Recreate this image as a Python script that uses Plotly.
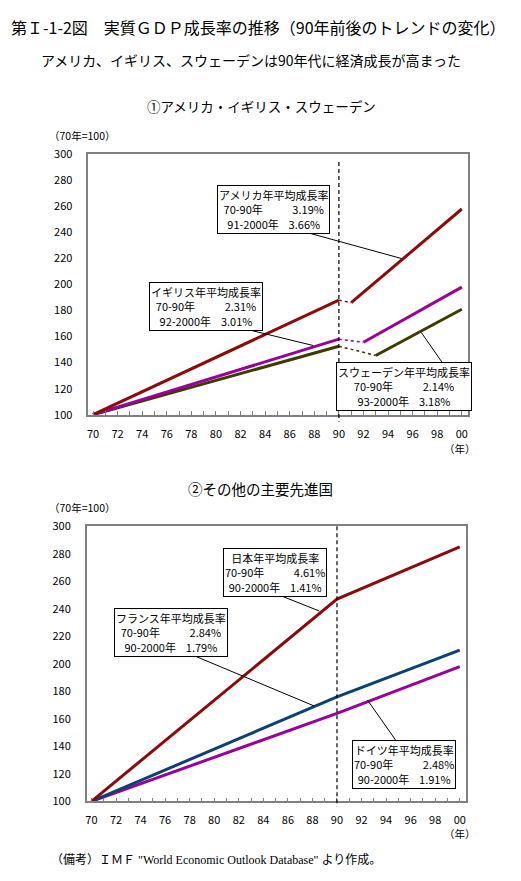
import plotly.graph_objects as go

# ---- データ（70年=100）----
# ①アメリカ・イギリス・スウェーデン
us_years = [70, 90, 91, 100]
us_vals = [100, 188, 186, 258]
uk_years = [70, 90, 92, 100]
uk_vals = [100, 158, 155.6, 198]
se_years = [70, 90, 93, 100]
se_vals = [100, 152.6, 145.5, 181]

# ②その他の主要先進国
jp_years = [70, 90, 100]
jp_vals = [100, 247, 285]
fr_years = [70, 90, 100]
fr_vals = [100, 176, 210]
de_years = [70, 90, 100]
de_vals = [100, 164, 198]

tick_years = list(range(70, 101, 2))
tick_text = ["70", "72", "74", "76", "78", "80", "82", "84", "86", "88",
             "90", "92", "94", "96", "98", "00"]
y_ticks = list(range(100, 301, 20))

RED = "#8b0a0a"
PURPLE = "#990099"
OLIVE = "#3c3c00"
NAVY = "#0c4173"
FONT = "Noto Sans CJK JP"
NB = "\u00a0"

fig = go.Figure()


def add_broken(years, vals, color, xa, ya):
    # 90年までと後半のトレンド線は実線、その間のすき間は点線
    fig.add_trace(go.Scatter(x=years[:2], y=vals[:2], mode="lines", xaxis=xa, yaxis=ya,
                             line=dict(color=color, width=3)))
    fig.add_trace(go.Scatter(x=years[1:3], y=vals[1:3], mode="lines", xaxis=xa, yaxis=ya,
                             line=dict(color=color, width=1.5, dash="3px,3px")))
    fig.add_trace(go.Scatter(x=years[2:], y=vals[2:], mode="lines", xaxis=xa, yaxis=ya,
                             line=dict(color=color, width=3)))


add_broken(se_years, se_vals, OLIVE, "x", "y")
add_broken(uk_years, uk_vals, PURPLE, "x", "y")
add_broken(us_years, us_vals, RED, "x", "y")

for yrs, vals, col in [(de_years, de_vals, PURPLE), (fr_years, fr_vals, NAVY), (jp_years, jp_vals, RED)]:
    fig.add_trace(go.Scatter(x=yrs, y=vals, mode="lines", xaxis="x2", yaxis="y2",
                             line=dict(color=col, width=3)))

xaxis_style = dict(range=[69.62, 100.5], tickvals=tick_years, ticktext=tick_text,
                   ticks="inside", ticklen=4, tickcolor="#808080",
                   minor=dict(dtick=1, tick0=70, ticks="inside", ticklen=4, tickcolor="#808080"),
                   showline=True, linecolor="#808080", linewidth=1.5, mirror=True,
                   showgrid=False, zeroline=False, ticklabelstandoff=8,
                   tickfont=dict(size=11, color="black"))
yaxis_style = dict(range=[100, 300], tickvals=y_ticks, ticks="",
                   showline=True, linecolor="#808080", linewidth=1.5, mirror=True,
                   showgrid=False, zeroline=False, ticklabelstandoff=12,
                   tickfont=dict(size=11, color="black"))

fig.update_layout(
    width=521, height=881,
    margin=dict(l=0, r=0, t=0, b=0),
    paper_bgcolor="white", plot_bgcolor="white",
    showlegend=False,
    font=dict(family=FONT, color="black"),
    xaxis=dict(domain=[0.168, 0.898], anchor="y", **xaxis_style),
    yaxis=dict(domain=[0.531, 0.832], anchor="x", **yaxis_style),
    xaxis2=dict(domain=[0.165, 0.894], anchor="y2", **xaxis_style),
    yaxis2=dict(domain=[0.084, 0.402], anchor="x2", **yaxis_style),
)

# 90年の縦の点線
for xr, y0, y1 in [("x", 0.823, 0.523), ("x2", 0.402, 0.078)]:
    fig.add_shape(type="line", xref=xr, yref="paper", x0=90, x1=90, y0=y0, y1=y1,
                  line=dict(color="black", width=1.2, dash="4px,3px"))


def box(xr, yr, x, y, title, l1, v1, l2, v2):
    text = (title + "<br>" + l1 + NB * 12 + v1 + "<br>" + l2 + NB * 4 + v2)
    fig.add_annotation(xref=xr, yref=yr, x=x, y=y, text=text, showarrow=False,
                       xanchor="center", yanchor="middle", align="center",
                       font=dict(size=11, family=FONT, color="black"),
                       bgcolor="white", bordercolor="black", borderwidth=1, borderpad=1)


def leader(xr, yr, x0, y0, x1, y1):
    fig.add_shape(type="line", xref=xr, yref=yr, x0=x0, y0=y0, x1=x1, y1=y1,
                  line=dict(color="black", width=1))


leader("x", "y", 86.84, 241.4, 95.08, 220.0)
leader("x", "y", 81.58, 167.7, 87.92, 153.1)
leader("x", "y", 98.58, 137.7, 96.70, 163.2)
box("x", "y", 84.65, 257.7, "アメリカ年平均成長率", "70-90年", "3.19%", "91-2000年", "3.66%")
box("x", "y", 79.15, 183.4, "イギリス年平均成長率", "70-90年", "2.31%", "92-2000年", "3.01%")
box("x", "y", 95.3, 121.5, "スウェーデン年平均成長率", "70-90年", "2.14%", "93-2000年", "3.18%")

leader("x2", "y2", 85.03, 250.9, 88.56, 238.4)
leader("x2", "y2", 77.96, 207.4, 88.15, 169.3)
leader("x2", "y2", 95.02, 141.4, 92.49, 173.6)
box("x2", "y2", 84.93, 266.1, "日本年平均成長率", "70-90年", "4.61%", "90-2000年", "1.41%")
box("x2", "y2", 76.51, 222.6, "フランス年平均成長率", "70-90年", "2.84%", "90-2000年", "1.79%")
box("x2", "y2", 95.48, 126.5, "ドイツ年平均成長率", "70-90年", "2.48%", "90-2000年", "1.91%")


def ptext(x, y, text, size, xanchor="center", family=FONT):
    fig.add_annotation(xref="paper", yref="paper", x=x / 521, y=1 - y / 881, text=text,
                       showarrow=False, xanchor=xanchor, yanchor="middle",
                       font=dict(size=size, family=family, color="black"))


ptext(8, 18, "第Ｉ-1-2図　実質ＧＤＰ成長率の推移（90年前後のトレンドの変化）", 16, "left")
ptext(250, 52, "アメリカ、イギリス、スウェーデンは90年代に経済成長が高まった", 14)
ptext(261, 99, "①アメリカ・イギリス・スウェーデン", 13.5)
ptext(260, 488, "②その他の主要先進国", 14.5)
ptext(46, 129, "（70年=100）", 10.5, "left")
ptext(46, 508, "（70年=100）", 10.5, "left")
ptext(478, 448, "（年）", 10.5, "right")
ptext(478, 840, "（年）", 10.5, "right")
ptext(48, 867, "（備考）ＩＭＦ \"World Economic Outlook Database\" より作成。", 12, "left",
      "Liberation Serif, Noto Sans CJK JP")

fig.write_html("out.html", config={"displayModeBar": False},
               post_script="document.body.style.margin='0';")
